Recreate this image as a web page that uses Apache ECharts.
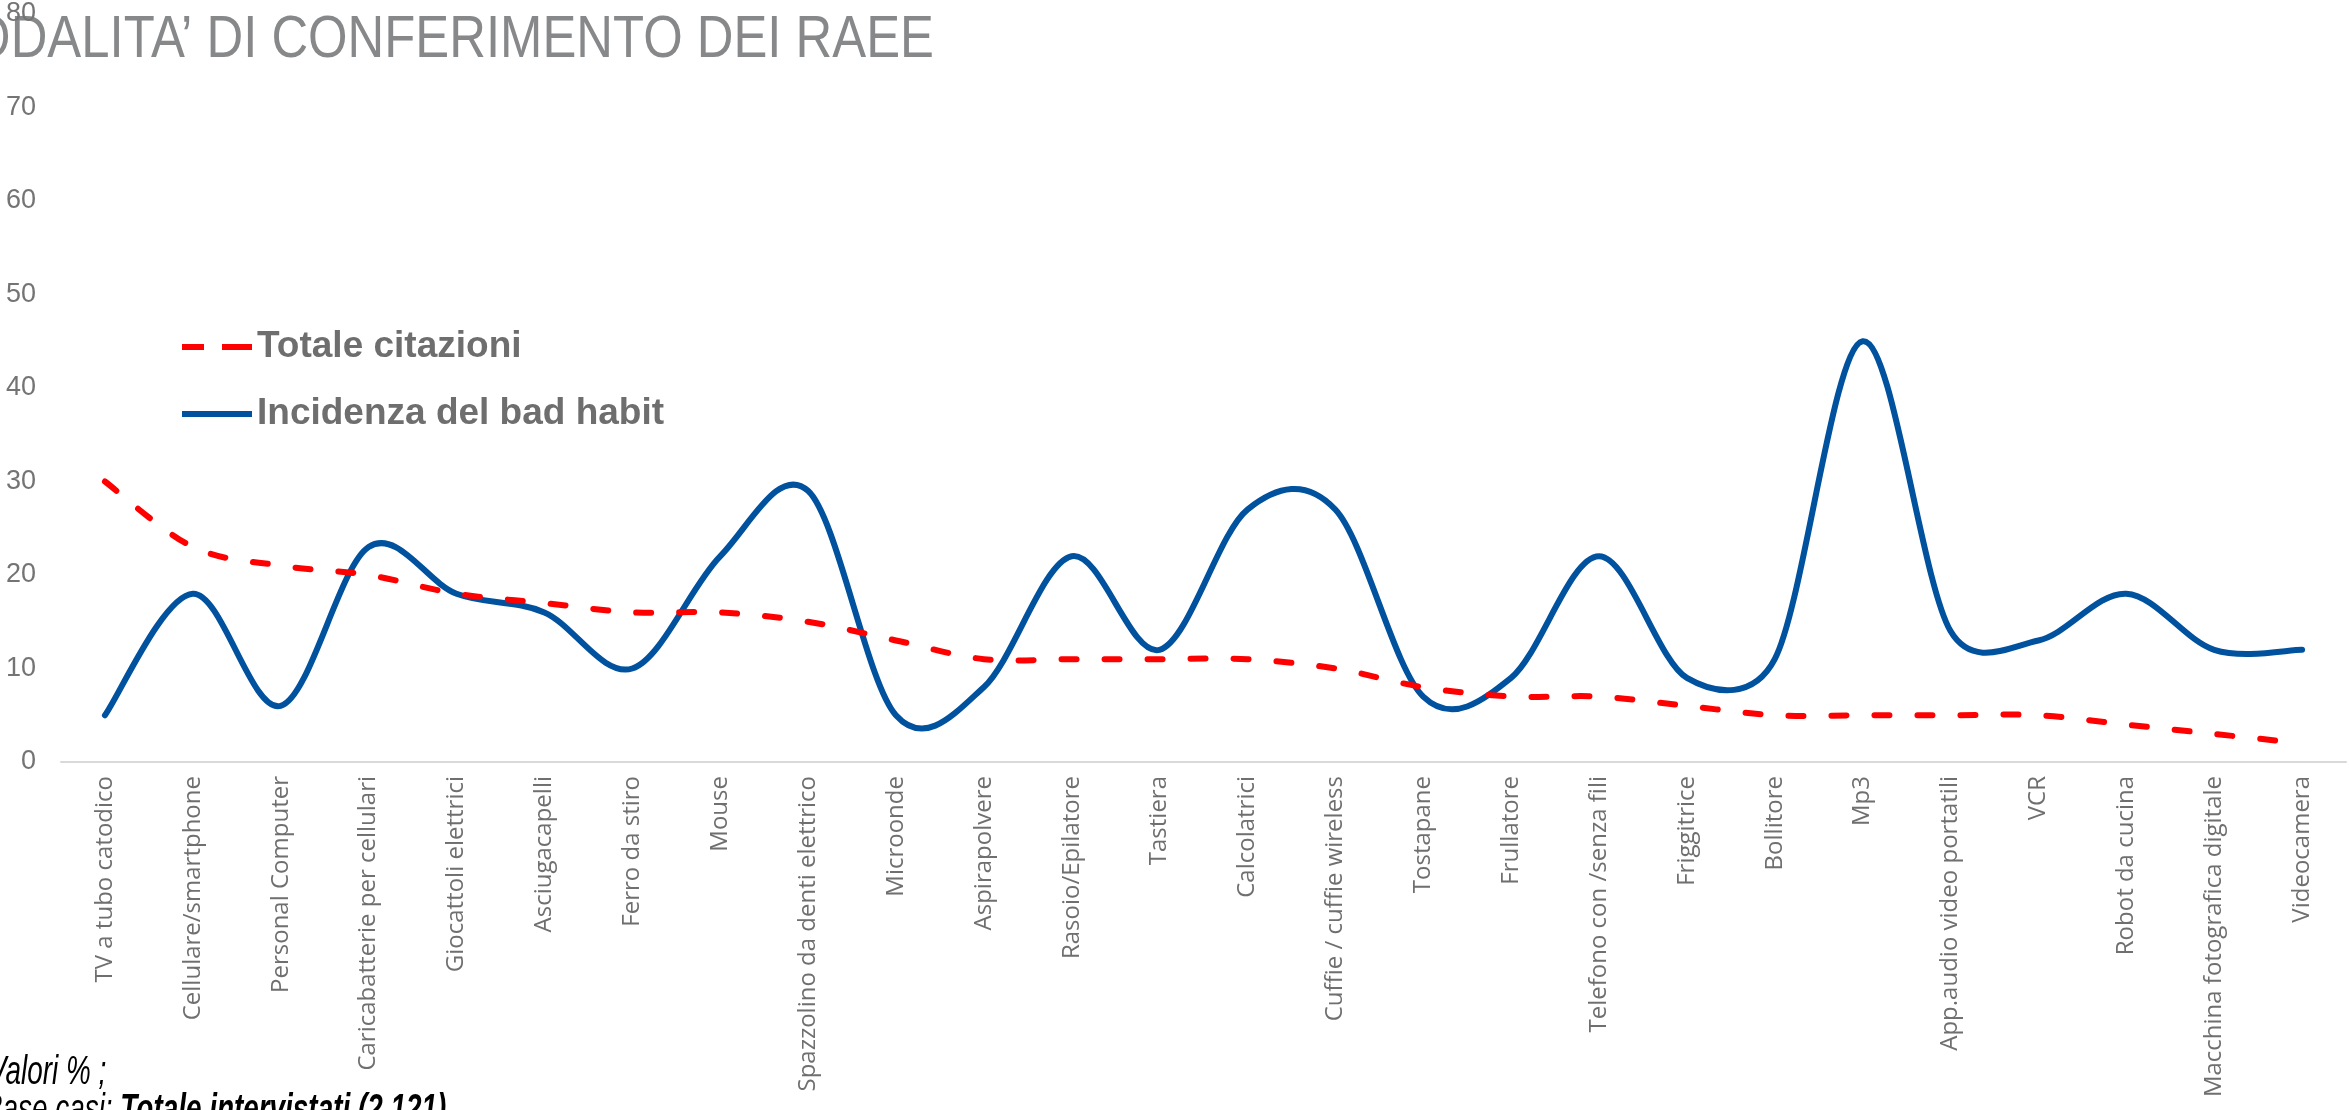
<!DOCTYPE html>
<html>
<head>
<meta charset="utf-8">
<script src="https://cdn.jsdelivr.net/npm/echarts@6/dist/echarts.min.js"></script>
<style>
html,body{margin:0;padding:0;background:#fff;overflow:hidden;}
#chart{width:2349px;height:1110px;}
</style>
</head>
<body>
<div id="chart"></div>
<script>
var categories = ["TV a tubo catodico","Cellulare/smartphone","Personal Computer","Caricabatterie per cellulari","Giocattoli elettrici","Asciugacapelli","Ferro da stiro","Mouse","Spazzolino da denti elettrico","Microonde","Aspirapolvere","Rasoio/Epilatore","Tastiera","Calcolatrici","Cuffie / cuffie wireless","Tostapane","Frullatore","Telefono con /senza fili","Friggitrice","Bollitore","Mp3","App.audio video portatili","VCR","Robot da cucina","Macchina fotografica digitale","Videocamera"];
var totaleCitazioni = [30,23,21,20,18,17,16,16,15,13,11,11,11,11,10,8,7,7,6,5,5,5,5,4,3,2];
var incidenzaBadHabit = [5,18,6,23,18,16,10,22,29,5,8,22,12,27,27,7,9,22,9,11,45,14,13,18,12,12];
var yTicks = {min:0, max:80, interval:10};
var seriesNames = ["Totale citazioni","Incidenza del bad habit"];
var titleText = "MODALITA\u2019 DI CONFERIMENTO DEI RAEE";
var noteLine1 = "Valori % ;";
var noteLine2a = "Base casi: ";
var noteLine2b = "Totale intervistati (2.121)";

var sans = "'Liberation Sans',Arial,sans-serif";

// Excel-like smoothed path (Catmull-Rom Bezier) through points placed by the chart's own axes
function smoothPath(values, api) {
  var pts = values.map(function (v, i) { return api.coord([i, v]); });
  var n = pts.length;
  var d = 'M' + pts[0][0] + ',' + pts[0][1];
  for (var i = 0; i < n - 1; i++) {
    var p0 = pts[Math.max(i - 1, 0)], p1 = pts[i], p2 = pts[i + 1], p3 = pts[Math.min(i + 2, n - 1)];
    var seg = Math.hypot(p2[0] - p1[0], p2[1] - p1[1]);
    var t1 = [(p2[0] - p0[0]) / 6, (p2[1] - p0[1]) / 6];
    var t2 = [(p3[0] - p1[0]) / 6, (p3[1] - p1[1]) / 6];
    var l1 = Math.hypot(t1[0], t1[1]), l2 = Math.hypot(t2[0], t2[1]);
    if (l1 > seg / 2) { t1 = [t1[0] * seg / 2 / l1, t1[1] * seg / 2 / l1]; }
    if (l2 > seg / 2) { t2 = [t2[0] * seg / 2 / l2, t2[1] * seg / 2 / l2]; }
    d += 'C' + (p1[0] + t1[0]) + ',' + (p1[1] + t1[1]) + ' ' + (p2[0] - t2[0]) + ',' + (p2[1] - t2[1]) + ' ' + p2[0] + ',' + p2[1];
  }
  return d;
}

function makeSeries(name, values, color, dash, z) {
  return {
    name: name, type: 'custom', coordinateSystem: 'cartesian2d', z: z, silent: true,
    data: values.map(function (v, i) { return [i, v]; }),
    encode: {x: 0, y: 1},
    itemStyle: {color: color},
    renderItem: function (params, api) {
      if (params.dataIndex !== 0) { return null; }
      return {
        type: 'path',
        shape: {pathData: smoothPath(values, api)},
        style: {fill: 'none', stroke: color, lineWidth: 6, lineDash: dash, lineCap: 'round', lineJoin: 'round'}
      };
    }
  };
}

var chart = echarts.init(document.getElementById('chart'), null, {renderer: 'canvas'});
chart.setOption({
  animation: false,
  backgroundColor: '#ffffff',
  grid: {left: 61, right: 3, top: 14, bottom: 348, containLabel: false},
  legend: {
    orient: 'vertical', left: 177, top: 322,
    itemWidth: 70, itemHeight: 6, itemGap: 27,
    data: [
      {name: seriesNames[0], icon: 'path://M0,0H22V6H0ZM40,0H70V6H40Z'},
      {name: seriesNames[1], icon: 'path://M0,0H70V6H0Z'}
    ],
    textStyle: {fontFamily: sans, fontWeight: 'bold', fontSize: 37, lineHeight: 40, color: '#6e6e6e'}
  },
  xAxis: {
    type: 'category', data: categories, boundaryGap: true,
    axisLine: {lineStyle: {color: '#d9d9d9', width: 2}},
    axisTick: {show: false},
    axisLabel: {rotate: 90, interval: 0, margin: 14, color: '#6f6f6f', fontFamily: "'Open Sans',sans-serif", fontSize: 24}
  },
  yAxis: {
    type: 'value', min: yTicks.min, max: yTicks.max, interval: yTicks.interval,
    splitLine: {show: false}, axisLine: {show: false}, axisTick: {show: false},
    axisLabel: {margin: 25, color: '#747474', fontFamily: sans, fontSize: 27}
  },
  graphic: [
    {type: 'text', z: -1, x: 934, y: 40, scaleX: 0.847,
      style: {text: titleText, x: 0, y: 0, align: 'right', verticalAlign: 'middle', fill: '#86888a', font: "60px " + sans}},
    {type: 'text', x: -12, y: 1073, scaleX: 0.68,
      style: {text: noteLine1, x: 0, y: 0, align: 'left', verticalAlign: 'middle', fill: '#000000', font: "italic 41px " + sans}},
    {type: 'text', x: -16, y: 1111, scaleX: 0.68,
      style: {text: '{r|' + noteLine2a + '}{b|' + noteLine2b + '}', x: 0, y: 0, align: 'left', verticalAlign: 'middle',
        rich: {
          r: {fontFamily: sans, fontStyle: 'italic', fontSize: 41, color: '#000'},
          b: {fontFamily: sans, fontStyle: 'italic', fontWeight: 'bold', fontSize: 41, color: '#000'}
        }}}
  ],
  series: [
    makeSeries(seriesNames[0], totaleCitazioni, '#ff0000', [15, 28], 3),
    makeSeries(seriesNames[1], incidenzaBadHabit, '#00519e', null, 2)
  ]
});
</script>
</body>
</html>
